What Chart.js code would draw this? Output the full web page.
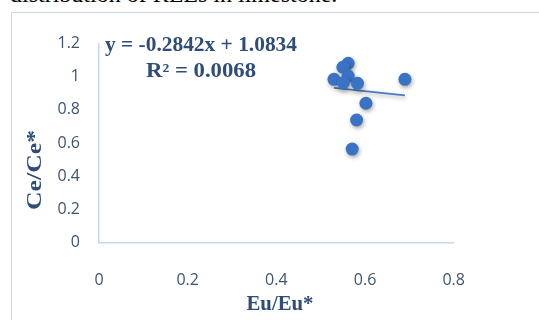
<!DOCTYPE html>
<html>
<head>
<meta charset="utf-8">
<script src="https://cdn.jsdelivr.net/npm/chart.js@4/dist/chart.umd.min.js"></script>
<style>
  html, body { margin: 0; padding: 0; background: #fff; overflow: hidden; }
  body { width: 539px; height: 320px; position: relative; }
  #caption { position: absolute; left: 10px; top: -21px; font: 24px/30px "Liberation Serif", serif; color: #000; white-space: nowrap; }
  #frame { position: absolute; left: 11px; top: 12px; width: 600px; height: 400px; border-left: 1.5px solid #c8d8ee; border-top: 1.5px solid #c8d8ee; }
  #wrap { position: absolute; left: 0; top: 0; width: 539px; height: 320px; }
</style>
</head>
<body>
<div id="caption">distribution of REEs in limestone.</div>
<div id="frame"></div>
<div id="wrap"><canvas id="c" width="539" height="320"></canvas></div>
<script>
// Eu/Eu* and Ce/Ce* anomalies of the limestone samples
const euAnomaly = [0.562, 0.550, 0.530, 0.562, 0.551, 0.583, 0.690, 0.602, 0.581, 0.571];
const ceAnomaly = [1.081, 1.057, 0.984, 1.004, 0.964, 0.960, 0.984, 0.840, 0.739, 0.564];

// linear fit reported for the data
const slope = -0.2842;
const intercept = 1.0834;
const rSquared = 0.0068;

const xTicks = [0, 0.2, 0.4, 0.6, 0.8];
const yTicks = [0, 0.2, 0.4, 0.6, 0.8, 1, 1.2];

const points = euAnomaly.map((x, i) => ({ x, y: ceAnomaly[i] }));
const xMin = Math.min(...euAnomaly), xMax = Math.max(...euAnomaly);
const trend = [xMin, xMax].map(x => ({ x, y: slope * x + intercept }));

const tickColor = '#3f5373';
const titleColor = '#2e4d78';
const tickFont = { family: '"Open Sans", sans-serif', size: 16 };
const fmt = v => String(+Number(v).toFixed(1));

// draws text stretched to a given width, centred on (cx, cy)
function fitText(ctx, text, cx, cy, width) {
  const w = ctx.measureText(text).width;
  ctx.save();
  ctx.translate(cx, cy);
  ctx.scale(width / w, 1);
  ctx.textAlign = 'center';
  ctx.fillText(text, 0, 0);
  ctx.restore();
}

const overlay = {
  id: 'overlay',
  beforeDatasetsDraw(chart) {
    const ctx = chart.ctx;
    ctx.save();
    ctx.shadowColor = 'rgba(0,0,0,0.35)';
    ctx.shadowBlur = 4;
    ctx.shadowOffsetX = 1;
    ctx.shadowOffsetY = 2;
  },
  afterDatasetsDraw(chart) {
    chart.ctx.restore();
  },
  afterDraw(chart) {
    const ctx = chart.ctx;
    ctx.save();
    ctx.fillStyle = titleColor;
    ctx.textBaseline = 'middle';
    // regression equation
    ctx.font = 'bold 20px "Liberation Serif", serif';
    fitText(ctx, 'y = ' + slope.toFixed(4) + 'x + ' + intercept.toFixed(4), 201, 46, 192);
    fitText(ctx, 'R² = ' + rSquared.toFixed(4), 201, 72, 110);
    // axis titles
    ctx.font = 'bold 20px "Liberation Serif", serif';
    fitText(ctx, 'Eu/Eu*', 280, 305, 67);
    ctx.translate(36, 170);
    ctx.rotate(-Math.PI / 2);
    fitText(ctx, 'Ce/Ce*', 0, 0, 80);
    ctx.restore();
  }
};

new Chart(document.getElementById('c'), {
  type: 'scatter',
  data: {
    datasets: [
      {
        data: points,
        backgroundColor: '#3a72c4',
        borderColor: '#3a72c4',
        pointRadius: 6.5,
        pointHoverRadius: 6.5,
        borderWidth: 0,
        order: 1
      },
      {
        type: 'line',
        data: trend,
        borderColor: '#4a7cc4',
        borderWidth: 1.6,
        pointRadius: 0,
        fill: false,
        order: 2
      }
    ]
  },
  options: {
    responsive: false,
    animation: false,
    events: [],
    layout: { padding: { left: 0, top: 43.5, right: 85.3, bottom: 0 } },
    plugins: { legend: { display: false }, tooltip: { enabled: false } },
    scales: {
      x: {
        type: 'linear',
        min: 0, max: 0.8,
        afterFit(s) { s.height = 320 - 242.7; },
        afterBuildTicks(s) { s.ticks = xTicks.map(v => ({ value: v })); },
        grid: { display: false, drawTicks: false },
        border: { color: '#c8d8ee', width: 1.5 },
        ticks: { color: tickColor, font: tickFont, padding: 28, callback: fmt }
      },
      y: {
        type: 'linear',
        min: 0, max: 1.2,
        afterFit(s) { s.width = 99; },
        afterBuildTicks(s) { s.ticks = yTicks.map(v => ({ value: v })); },
        grid: { display: false, drawTicks: false },
        border: { color: '#c8d8ee', width: 1.5 },
        ticks: { color: tickColor, font: tickFont, padding: 19, callback: fmt }
      }
    }
  },
  plugins: [overlay]
});
</script>
</body>
</html>
